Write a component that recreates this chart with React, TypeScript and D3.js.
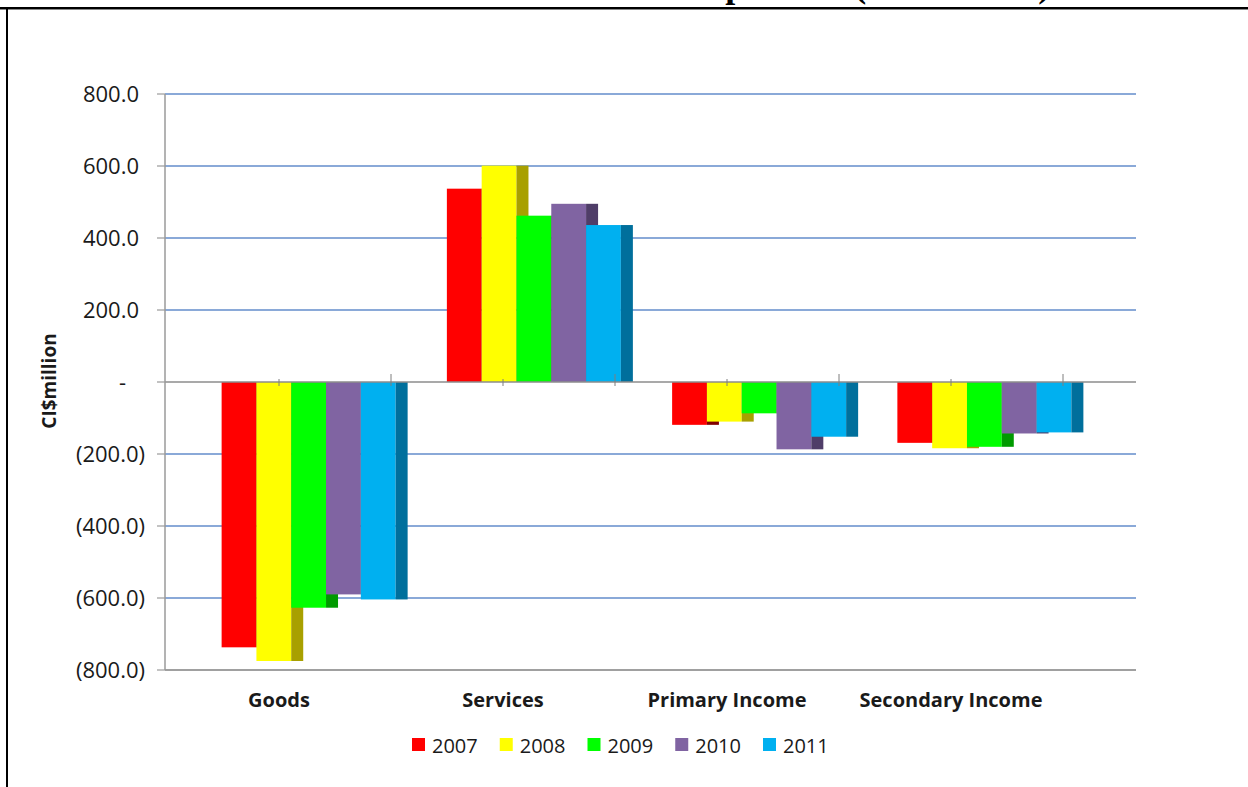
import React from 'react';
import * as d3 from 'd3';

const categories = ['Goods', 'Services', 'Primary Income', 'Secondary Income'];
const years = ['2007', '2008', '2009', '2010', '2011'];
const v2007 = [-737, 537, -119, -169];
const v2008 = [-775, 601, -110, -184];
const v2009 = [-627, 462, -87, -180];
const v2010 = [-590, 495, -187, -143];
const v2011 = [-604, 436, -152, -140];
const yTicks = [800, 600, 400, 200, 0, -200, -400, -600, -800];
const frontColors = ['#ff0000', '#ffff00', '#00ff00', '#8064a2', '#00b0f0'];
const sideColors = ['#800000', '#a8a000', '#009a00', '#4f3d68', '#006f9c'];
const titleText = 'Current Account Components (2007 - 2011)';
const yAxisTitle = 'CI$million';

const seriesValues = [v2007, v2008, v2009, v2010, v2011];

const W = 1248;
const H = 787;
const FONT = "'Open Sans', sans-serif";

function fmt(v: number): string {
  if (v === 0) return '-';
  const s = d3.format('.1f')(Math.abs(v));
  return v < 0 ? `(${s})` : s;
}

export default function App() {
  const y = d3.scaleLinear().domain([-800, 800]).range([670, 94]);
  const floorX = d3.scaleBand<string>().domain(categories).range([167, 1063]);
  const backX = d3
    .scaleBand<string>()
    .domain(categories)
    .range([196, 1097])
    .paddingInner(0.2275)
    .paddingOuter(0.11375);
  const sx = d3.scaleBand<string>().domain(years).range([0, backX.bandwidth()]);
  const depth = 12;
  const axisX = 165;
  const plotRight = 1136;

  const bars: React.ReactNode[] = [];
  categories.forEach((c, ci) => {
    years.forEach((yr, si) => {
      const v = seriesValues[si][ci];
      const x0 = (backX(c) as number) + (sx(yr) as number);
      const w = sx.bandwidth();
      const yTop = Math.min(y(0), y(v));
      const h = Math.abs(y(v) - y(0));
      bars.push(
        <g key={`${c}-${yr}`}>
          <rect x={x0} y={yTop} width={w} height={h} fill={frontColors[si]} />
          <rect x={x0 + w} y={yTop} width={depth} height={h} fill={sideColors[si]} />
        </g>
      );
    });
  });

  const catTicks: React.ReactNode[] = [];
  categories.forEach((c) => {
    const start = floorX(c) as number;
    const bw = floorX.bandwidth();
    catTicks.push(
      <line key={`m-${c}`} x1={start + bw / 2} x2={start + bw / 2} y1={379} y2={386} stroke="#7f7f7f" strokeWidth={1} />
    );
    catTicks.push(
      <line key={`b-${c}`} x1={start + bw} x2={start + bw} y1={374} y2={386} stroke="#7f7f7f" strokeWidth={1} />
    );
  });

  const legendStart = 412;
  const legendStep = 87.75;

  return (
    <svg
      width={W}
      height={H}
      style={{ position: 'absolute', left: 0, top: 0, display: 'block', background: '#ffffff' }}
    >
      <rect x={0} y={0} width={W} height={H} fill="#ffffff" />
      {/* cut-off title */}
      <text
        x={382}
        y={-3.3}
        fontFamily="'Liberation Serif', 'Times New Roman', serif"
        fontWeight="bold"
        fontSize={36}
        fill="#000"
      >
        {titleText}
      </text>
      {/* frame */}
      <line x1={0} x2={W} y1={8} y2={8} stroke="#000" strokeWidth={2} />
      <line x1={0} x2={W} y1={9.5} y2={9.5} stroke="#888" strokeWidth={1} />
      <line x1={7} x2={7} y1={7} y2={H} stroke="#000" strokeWidth={2} />

      {/* gridlines */}
      {yTicks
        .filter((t) => t !== 0 && t !== -800)
        .map((t) => (
          <line key={`g${t}`} x1={axisX} x2={plotRight} y1={y(t)} y2={y(t)} stroke="#8aa9d8" strokeWidth={2} />
        ))}
      <line x1={axisX} x2={plotRight} y1={y(-800)} y2={y(-800)} stroke="#a0a0a0" strokeWidth={2} />

      {bars}

      {/* zero line & axis */}
      <line x1={axisX} x2={plotRight} y1={y(0)} y2={y(0)} stroke="#8c8c8c" strokeWidth={1.5} />
      {catTicks}
      <line x1={axisX} x2={axisX} y1={y(800)} y2={y(-800)} stroke="#9a9a9a" strokeWidth={1.5} />
      {yTicks.map((t) => (
        <g key={`t${t}`}>
          <line x1={157} x2={axisX} y1={y(t)} y2={y(t)} stroke="#9a9a9a" strokeWidth={1.2} />
          <text
            x={t > 0 ? 139 : t < 0 ? 145 : 126}
            y={y(t) + 8}
            textAnchor="end"
            fontFamily={FONT}
            fontSize={22}
            fill="#1a1a1a"
          >
            {fmt(t)}
          </text>
        </g>
      ))}

      {/* y axis title */}
      <text
        transform={`translate(56,381) rotate(-90)`}
        textAnchor="middle"
        fontFamily={FONT}
        fontWeight="bold"
        fontSize={19}
        fill="#1a1a1a"
      >
        {yAxisTitle}
      </text>

      {/* category labels */}
      {categories.map((c) => (
        <text
          key={`cl-${c}`}
          x={(floorX(c) as number) + floorX.bandwidth() / 2}
          y={707}
          textAnchor="middle"
          fontFamily={FONT}
          fontWeight="bold"
          fontSize={20}
          fill="#1a1a1a"
        >
          {c}
        </text>
      ))}

      {/* legend */}
      {years.map((yr, i) => (
        <g key={`lg-${yr}`} transform={`translate(${legendStart + i * legendStep},738)`}>
          <rect x={0} y={0} width={13} height={13} fill={frontColors[i]} />
          <text x={20} y={14.5} fontFamily={FONT} fontSize={20} fill="#1a1a1a">
            {yr}
          </text>
        </g>
      ))}
    </svg>
  );
}
